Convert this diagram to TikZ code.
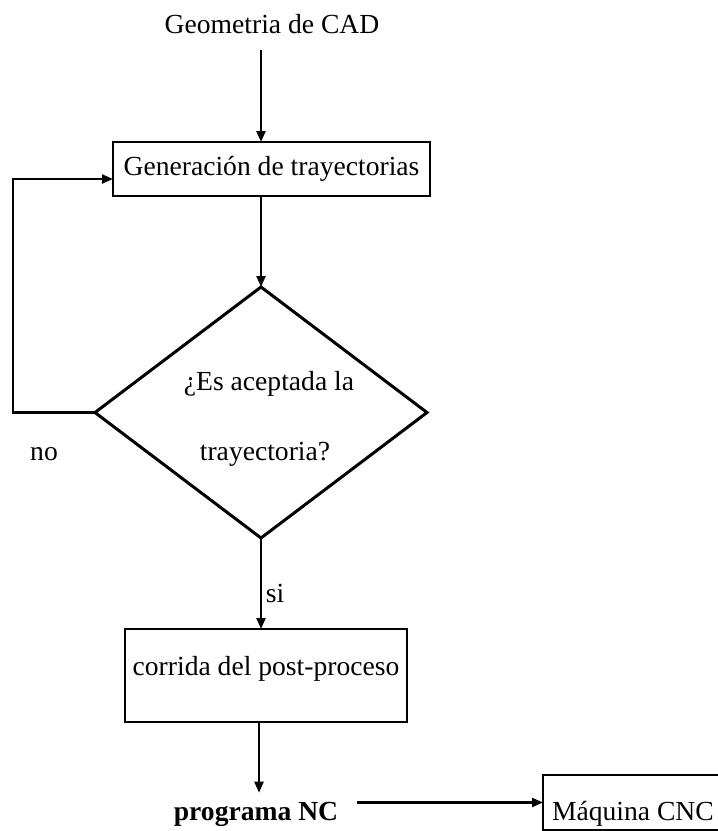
\documentclass[tikz,border=0pt]{standalone}
\usepackage{fontspec}
\setmainfont{Liberation Serif}
\usetikzlibrary{arrows.meta,shapes.geometric}
\begin{document}
\begin{tikzpicture}[x=1pt,y=-1pt,
  every node/.style={font=\fontsize{27.6}{33}\selectfont, inner sep=0pt, outer sep=0pt},
  box/.style={draw, line width=2.4pt},
  txt/.style={anchor=base},
  arr/.style={line width=2.2pt, -{Triangle[length=11pt,width=9pt]}},
  ]
\useasboundingbox (0,0) rectangle (718,831);
\clip (0,0) rectangle (718,831);
% nodes
\node[txt] (geo) at (272,33) {Geometria de CAD};
\node[box, minimum width=317pt, minimum height=54pt] (gen) at (271.5,169) {Generación de trayectorias};
\node[draw, diamond, line width=3pt, minimum width=332pt, minimum height=251pt] (dec) at (261,412.5) {};
\node[txt] (q1) at (269,390) {¿Es aceptada la};
\node[txt] (q2) at (265,460) {trayectoria?};
\node[txt] (no) at (44,460) {no};
\node[txt] (si) at (275,602) {si};
\node[box, minimum width=282pt, minimum height=93pt] (post) at (266,675.5) {};
\node[txt] (postt) at (266,675) {corrida del post-proceso};
\node[txt, font=\fontsize{27.6}{33}\selectfont\bfseries, inner ysep=9pt] (prog) at (256,820) {programa NC};
\node[box, minimum width=192pt, minimum height=55pt] (maq) at (639,802.5) {};
\node[anchor=base west] (maqt) at (552,820) {Máquina CNC};
% connectors
\draw[arr] ([yshift=-17pt]geo.south -| dec.north) -- (gen.north -| dec.north);
\draw[arr] (gen.south -| dec.north) -- (dec.north);
\draw[arr] (dec.west) -- ++(-82,0) |- ([yshift=-10pt]gen.west);
\draw[arr] (dec.south) -- (dec.south |- post.north);
\draw[arr] (post.south -| 259,0) -- (prog.north -| 259,0);
\draw[arr] ([xshift=19pt]prog.east |- maq.west) -- (maq.west);
\end{tikzpicture}
\end{document}
